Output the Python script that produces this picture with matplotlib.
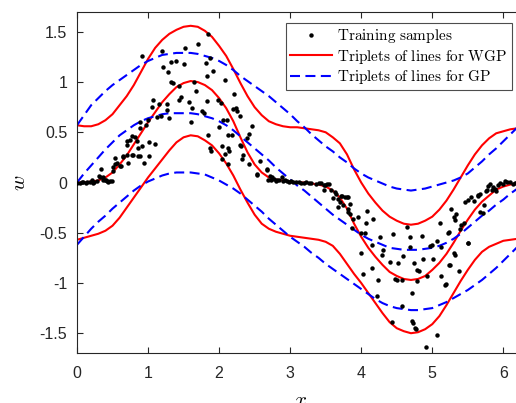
import numpy as np
import matplotlib
matplotlib.use("Agg")
import matplotlib.pyplot as plt

plt.rcParams['font.family'] = ['Liberation Sans', 'DejaVu Sans']
plt.rcParams['mathtext.fontset'] = 'cm'

# x positions where the curves were read (step 0.1)
x_grid = np.linspace(0, 6.2, 63)

# WGP triplet (red)
wgp_mid = [0.00, 0.00, 0.01, 0.02, 0.05, 0.10, 0.18, 0.27, 0.38, 0.49,
           0.60, 0.70, 0.80, 0.88, 0.95, 0.99, 1.01, 1.00, 0.97, 0.92,
           0.84, 0.74, 0.61, 0.45, 0.30, 0.18, 0.10, 0.05, 0.03, 0.02,
           0.01, 0.00, 0.00, -0.01, -0.02, -0.04, -0.08, -0.15, -0.26, -0.41,
           -0.54, -0.65, -0.74, -0.82, -0.89, -0.93, -0.96, -0.97, -0.96, -0.93,
           -0.87, -0.80, -0.71, -0.60, -0.48, -0.37, -0.27, -0.19, -0.13, -0.07,
           -0.04, -0.02, -0.01]
wgp_up = [0.57, 0.56, 0.56, 0.58, 0.62, 0.68, 0.77, 0.86, 0.97, 1.10,
          1.23, 1.34, 1.42, 1.48, 1.52, 1.55, 1.56, 1.55, 1.51, 1.45,
          1.36, 1.26, 1.13, 0.99, 0.86, 0.75, 0.67, 0.61, 0.58, 0.56,
          0.55, 0.55, 0.54, 0.53, 0.52, 0.50, 0.45, 0.39, 0.28, 0.13,
          0.00, -0.11, -0.20, -0.28, -0.34, -0.38, -0.41, -0.42, -0.41, -0.38,
          -0.34, -0.27, -0.18, -0.07, 0.05, 0.17, 0.28, 0.37, 0.44, 0.49,
          0.51, 0.53, 0.54]
wgp_low = [-0.57, -0.55, -0.53, -0.51, -0.48, -0.43, -0.35, -0.25, -0.15, -0.05,
           0.05, 0.14, 0.23, 0.32, 0.40, 0.45, 0.47, 0.46, 0.42, 0.37,
           0.29, 0.19, 0.07, -0.07, -0.20, -0.32, -0.41, -0.46, -0.49, -0.51,
           -0.53, -0.54, -0.55, -0.56, -0.57, -0.59, -0.63, -0.71, -0.81, -0.91,
           -1.00, -1.10, -1.20, -1.30, -1.39, -1.45, -1.48, -1.50, -1.49, -1.46,
           -1.41, -1.33, -1.22, -1.10, -0.98, -0.87, -0.77, -0.69, -0.64, -0.61,
           -0.58, -0.57, -0.56]

# GP triplet (blue)
gp_mid = [0.00, 0.09, 0.17, 0.25, 0.33, 0.40, 0.47, 0.52, 0.57, 0.61,
          0.64, 0.66, 0.68, 0.69, 0.69, 0.69, 0.69, 0.68, 0.66, 0.64,
          0.61, 0.57, 0.52, 0.46, 0.40, 0.34, 0.28, 0.22, 0.15, 0.09,
          0.03, -0.03, -0.08, -0.14, -0.20, -0.26, -0.32, -0.37, -0.42, -0.47,
          -0.52, -0.56, -0.59, -0.62, -0.65, -0.66, -0.67, -0.67, -0.67, -0.66,
          -0.65, -0.63, -0.60, -0.56, -0.51, -0.45, -0.39, -0.33, -0.28, -0.22,
          -0.17, -0.11, -0.06]
gp_up = [0.57, 0.67, 0.77, 0.84, 0.91, 0.97, 1.02, 1.07, 1.12, 1.17,
         1.21, 1.24, 1.27, 1.28, 1.29, 1.29, 1.29, 1.28, 1.26, 1.24,
         1.21, 1.17, 1.12, 1.06, 1.01, 0.96, 0.91, 0.86, 0.80, 0.74,
         0.68, 0.61, 0.55, 0.48, 0.42, 0.36, 0.31, 0.25, 0.20, 0.14,
         0.09, 0.05, 0.02, -0.01, -0.04, -0.06, -0.07, -0.08, -0.07, -0.06,
         -0.04, -0.02, 0.00, 0.02, 0.05, 0.09, 0.15, 0.21, 0.28, 0.34,
         0.41, 0.48, 0.55]
gp_low = [-0.62, -0.54, -0.46, -0.39, -0.33, -0.26, -0.20, -0.14, -0.08, -0.03,
          0.01, 0.04, 0.07, 0.09, 0.10, 0.10, 0.10, 0.09, 0.08, 0.05,
          0.02, -0.02, -0.06, -0.11, -0.17, -0.23, -0.29, -0.36, -0.42, -0.48,
          -0.54, -0.59, -0.64, -0.70, -0.75, -0.81, -0.86, -0.91, -0.96, -1.01,
          -1.06, -1.11, -1.16, -1.20, -1.23, -1.25, -1.26, -1.27, -1.27, -1.26,
          -1.25, -1.22, -1.19, -1.15, -1.11, -1.07, -1.02, -0.97, -0.91, -0.85,
          -0.78, -0.71, -0.64]

# training samples
samples_x = [0.00, 0.04, 0.07, 0.09, 0.13, 0.14, 0.18, 0.21, 0.23, 0.24, 0.28, 0.31, 0.32, 0.34,
             0.37, 0.37, 0.39, 0.41, 0.42, 0.44, 0.46, 0.49, 0.51, 0.51, 0.54, 0.54, 0.56, 0.61,
             0.62, 0.65, 0.65, 0.70, 0.70, 0.71, 0.72, 0.75, 0.78, 0.78, 0.79, 0.82, 0.84, 0.86,
             0.86, 0.88, 0.89, 0.89, 0.91, 0.91, 0.95, 0.97, 1.00, 1.01, 1.02, 1.06, 1.07, 1.10,
             1.13, 1.15, 1.18, 1.19, 1.21, 1.26, 1.27, 1.28, 1.30, 1.32, 1.33, 1.35, 1.39, 1.43,
             1.43, 1.47, 1.50, 1.52, 1.58, 1.60, 1.62, 1.65, 1.68, 1.71, 1.76, 1.79, 1.81, 1.83,
             1.83, 1.84, 1.85, 1.87, 1.87, 1.89, 1.91, 1.98, 2.00, 2.02, 2.04, 2.04, 2.06, 2.08,
             2.08, 2.11, 2.12, 2.12, 2.13, 2.14, 2.18, 2.19, 2.21, 2.24, 2.25, 2.29, 2.30, 2.31,
             2.32, 2.34, 2.39, 2.42, 2.42, 2.46, 2.53, 2.54, 2.58, 2.67, 2.67, 2.69,
             2.71, 2.73, 2.75, 2.77, 2.80, 2.82, 2.85, 2.88, 2.90, 2.93, 2.96, 2.98, 3.01, 3.04,
             3.08, 3.12, 3.15, 3.19, 3.22, 3.26, 3.30, 3.36, 3.40, 3.44, 3.47, 3.49, 3.52, 3.54,
             3.47, 3.58, 3.60, 3.63, 3.65, 3.68, 3.70, 3.72, 3.73, 3.77, 3.80, 3.82, 3.68, 3.75,
             3.82, 3.84, 3.84, 3.82, 3.89, 3.87, 3.96, 4.08, 4.17, 4.07, 4.00, 4.06, 4.27, 4.00,
             4.15, 4.31, 4.29, 4.45, 4.59, 4.64, 4.68, 4.85, 4.74, 4.87, 4.97, 4.99, 5.06, 5.11,
             5.13, 5.23, 5.27, 5.30, 5.32, 5.34, 5.40, 5.46, 5.51, 5.51, 5.54, 5.59, 5.65, 5.67,
             5.72, 5.73, 5.77, 5.79, 5.81, 5.86, 5.90, 5.93, 5.95, 6.00, 6.02, 6.05, 6.09, 6.13,
             6.16, 6.19, 5.75, 5.67, 5.64, 5.88, 5.84,
             4.15, 4.03, 4.24, 4.22, 4.41, 4.52, 4.69, 4.78, 4.82, 4.50, 4.57, 4.48, 4.78, 4.71,
             4.57, 4.43, 4.71, 4.73, 4.76, 4.77, 5.06, 4.91, 4.93, 5.01, 5.12, 5.18, 5.23, 5.32,
             5.39, 5.45, 5.50, 5.37, 5.25, 5.19, 5.31, 5.22]
samples_y = [0.00, 0.00, 0.01, 0.01, 0.00, 0.01, 0.01, 0.03, 0.00, 0.01, 0.02, 0.06, 0.05, 0.13,
             0.05, 0.03, 0.03, 0.03, 0.02, 0.01, 0.02, 0.02, 0.11, 0.15, 0.24, 0.18, 0.19, 0.16,
             0.16, 0.26, 0.25, 0.41, 0.27, 0.37, 0.19, 0.42, 0.46, 0.27, 0.27, 0.45, 0.41, 0.34,
             0.26, 0.60, 0.54, 0.26, 0.36, 1.26, 0.19, 0.57, 0.62, 0.40, 0.26, 0.75, 0.82, 0.38,
             0.65, 0.78, 0.66, 1.31, 1.15, 0.78, 0.72, 1.10, 0.64, 1.20, 1.00, 0.99, 1.21, 0.96,
             0.82, 0.85, 1.18, 1.34, 0.80, 0.60, 0.74, 1.00, 0.91, 1.38, 0.71, 0.69, 1.19, 0.81,
             1.06, 1.48, 0.47, 1.24, 0.34, 0.31, 1.11, 0.82, 0.55, 0.79, 0.36, 0.23, 0.62, 1.02,
             0.28, 0.62, 0.18, 0.47, 0.34, 0.31, 0.47, 0.73, 0.88, 0.74, 0.71, 0.66, 0.37, 0.36,
             0.23, 0.27, 0.44, 0.48, 0.18, 0.56, 0.08, 0.07, 0.21, 0.13, 0.12, 0.03,
             0.06, 0.03, 0.05, 0.04, 0.02, 0.03, 0.03, 0.05, 0.02, 0.03, 0.02, 0.01, 0.02, 0.01,
             0.01, 0.01, 0.00, 0.00, 0.01, 0.00, 0.00, -0.01, 0.00, 0.00, -0.02, -0.02, -0.01, -0.01,
             -0.07, -0.07, -0.15, -0.09, -0.11, -0.16, -0.19, -0.13, -0.13, -0.14, -0.14, -0.14, -0.24, -0.22,
             -0.26, -0.31, -0.21, -0.29, -0.36, -0.45, -0.34, -0.28, -0.36, -0.40, -0.50, -0.50, -0.54, -0.70,
             -0.62, -0.67, -0.72, -0.51, -0.73, -0.44, -0.54, -0.53, -0.80, -0.76, -0.63, -0.62, -0.58, -0.40,
             -0.64, -0.49, -0.26, -0.34, -0.37, -0.31, -0.42, -0.19, -0.17, -0.60, -0.14, -0.18, -0.13, -0.29,
             -0.30, -0.22, -0.07, -0.03, -0.01, -0.04, -0.08, -0.02, 0.00, -0.01, 0.02, 0.01, 0.01, -0.01,
             0.00, 0.01, -0.08, -0.11, -0.12, -0.06, -0.07,
             -0.85, -0.91, -0.97, -1.13, -0.79, -0.80, -0.64, -0.87, -0.88, -0.97, -0.97, -0.96, -0.98, -1.10,
             -1.23, -1.39, -1.38, -1.40, -1.45, -1.46, -1.52, -1.64, -0.93, -0.76, -0.93, -1.02, -0.82, -0.72,
             -0.46, -0.40, -0.60, -0.88, -0.82, -1.01, -0.70, -0.50]

fig = plt.figure(figsize=(5.16, 4.03), dpi=100)
ax = fig.add_axes([0.1492, 0.1233, 0.8652, 0.8476])

ax.plot(samples_x, samples_y, 'o', color='k', ms=3.2, mew=0, label=r'$\mathrm{Training\ samples}$', zorder=3)
ax.plot(x_grid, wgp_up, color='#ff0000', lw=1.5, label=r'$\mathrm{Triplets\ of\ lines\ for\ WGP}$')
ax.plot(x_grid, wgp_mid, color='#ff0000', lw=1.5)
ax.plot(x_grid, wgp_low, color='#ff0000', lw=1.5)
dash = (0, (4.8, 2.6))
ax.plot(x_grid, gp_up, color='#0000ff', lw=1.5, ls=dash, label=r'$\mathrm{Triplets\ of\ lines\ for\ GP}$')
ax.plot(x_grid, gp_mid, color='#0000ff', lw=1.5, ls=dash)
ax.plot(x_grid, gp_low, color='#0000ff', lw=1.5, ls=dash)

ax.set_xlim(0, 2 * np.pi)
ax.set_ylim(-1.7, 1.7)
ax.set_xticks([0, 1, 2, 3, 4, 5, 6])
ax.set_yticks([-1.5, -1, -0.5, 0, 0.5, 1, 1.5])
ax.set_yticklabels(['-1.5', '-1', '-0.5', '0', '0.5', '1', '1.5'])
ax.tick_params(direction='in', length=4, width=0.8, top=True, right=True,
               labelsize=11.5, colors='#262626')
ax.tick_params(axis='x', pad=9)
ax.tick_params(axis='y', pad=7)
for s in ax.spines.values():
    s.set_color('#262626')
    s.set_linewidth(0.8)

ax.set_xlabel(r'$x$', fontsize=15, labelpad=7)
ax.set_ylabel(r'$w$', fontsize=15, labelpad=8)

leg = ax.legend(loc='upper right', bbox_to_anchor=(0.9917, 0.9437), bbox_transform=fig.transFigure,
                borderaxespad=0, fontsize=11, handlelength=2.7, labelspacing=0.15,
                handletextpad=0.35, borderpad=0.3, fancybox=False, framealpha=1)
leg.get_frame().set_edgecolor('#4d4d4d')
leg.get_frame().set_linewidth(0.8)

fig.savefig('out.png', dpi=100)
